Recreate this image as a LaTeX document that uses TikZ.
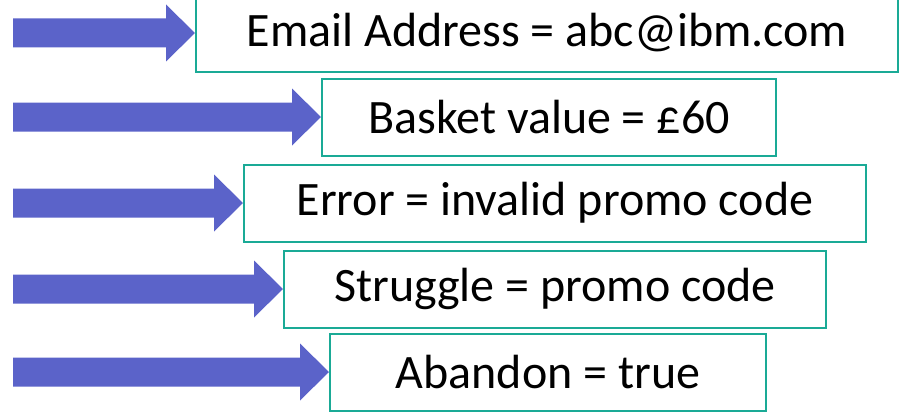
\documentclass[tikz,border=0pt]{standalone}
\usepackage{fontspec}
\setmainfont{Carlito}
\usetikzlibrary{calc}
\definecolor{arrowblue}{RGB}{91,99,201}
\definecolor{boxteal}{RGB}{26,170,150}
\tikzset{
  valbox/.style={draw=boxteal, line width=2pt, fill=white, inner sep=0pt,
    font=\fontsize{48}{54}\selectfont, text=black, anchor=center, minimum height=77pt},
  fatarrow/.style={fill=arrowblue, draw=none}
}
\newcommand{\fatarrowto}[1]{%
  \fill[fatarrow] ($(13,0 |- #1.west)+(0,-14.5)$) -- ($(#1.west)+(-29,-14.5)$) -- ($(#1.west)+(-29,-28.5)$) -- (#1.west) -- ($(#1.west)+(-29,28.5)$) -- ($(#1.west)+(-29,14.5)$) -- ($(13,0 |- #1.west)+(0,14.5)$) -- cycle;}
\begin{document}
\begin{tikzpicture}[x=1pt,y=-1pt]
\useasboundingbox (0,0) rectangle (907,412);
\clip (0,0) rectangle (907,412);
\node[valbox, minimum width=702pt] (b1) at (547,33) {Email Address = abc@ibm.com};
\node[valbox, minimum width=454pt] (b2) at (549,117) {Basket value = £60};
\node[valbox, minimum width=622pt] (b3) at (555,203) {Error = invalid promo code};
\node[valbox, minimum width=542pt] (b4) at (555,289) {Struggle = promo code};
\node[valbox, minimum width=436pt] (b5) at (548,372) {Abandon = true};
\fatarrowto{b1}
\fatarrowto{b2}
\fatarrowto{b3}
\fatarrowto{b4}
\fatarrowto{b5}
\end{tikzpicture}
\end{document}
